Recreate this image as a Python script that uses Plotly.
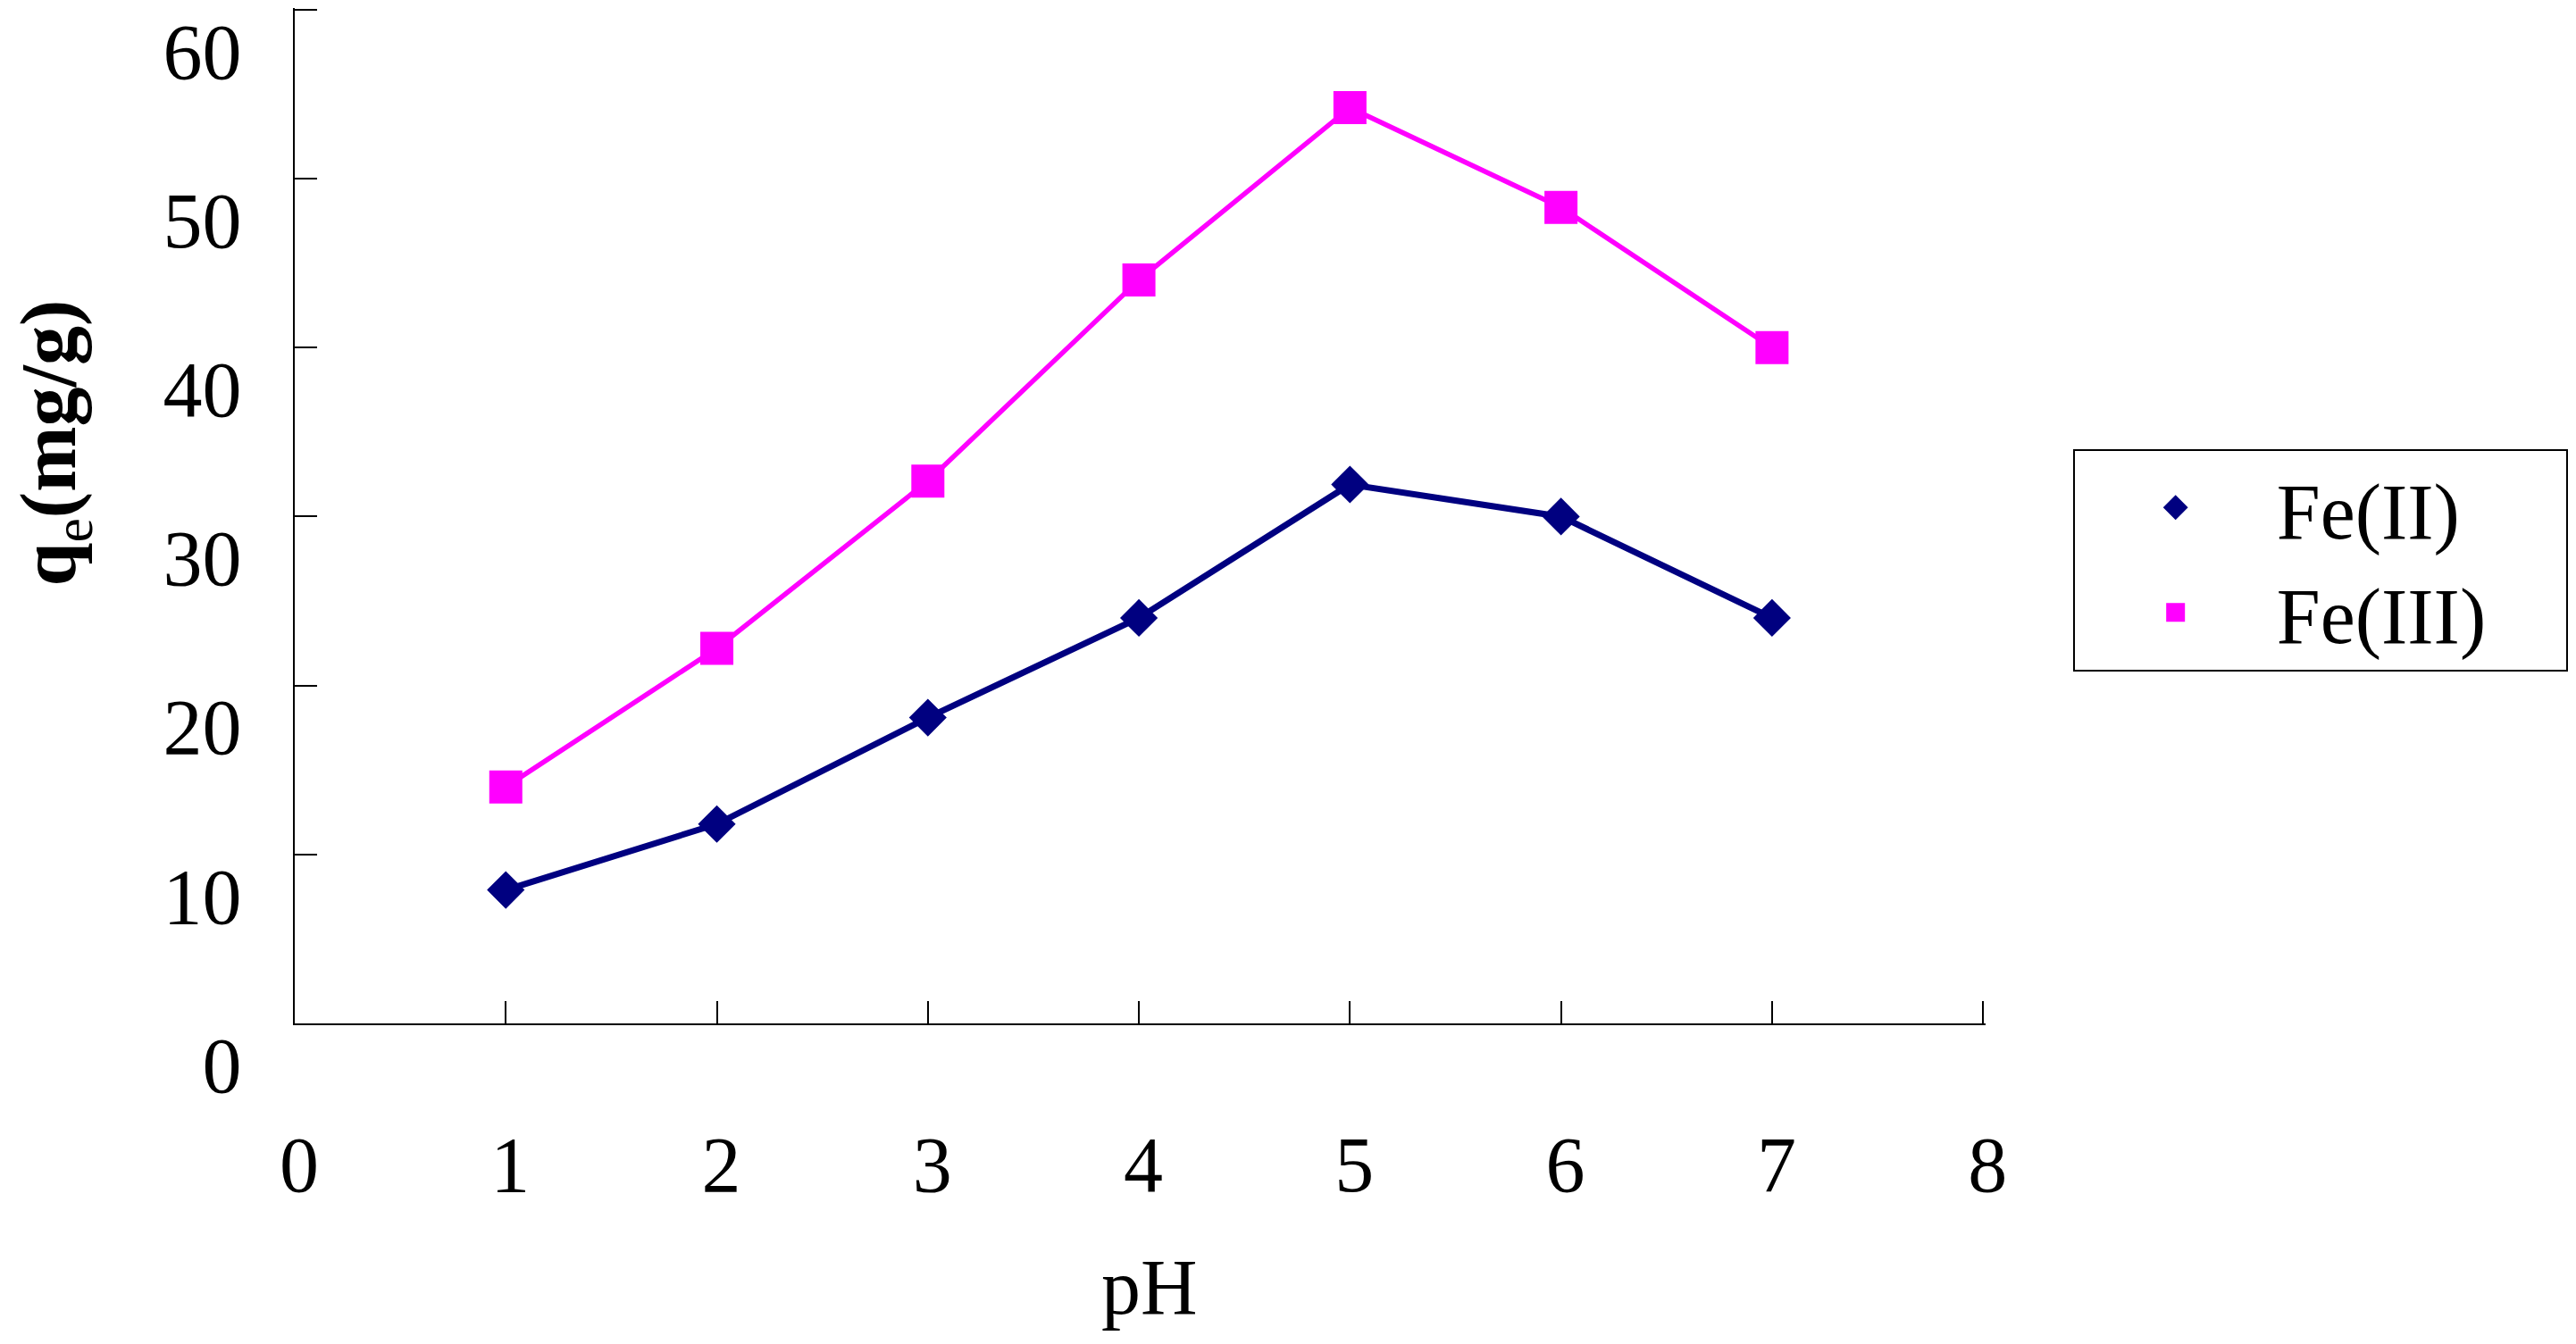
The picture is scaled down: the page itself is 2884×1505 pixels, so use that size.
import plotly.graph_objects as go

# ---- data ----
ph = [1, 2, 3, 4, 5, 6, 7]
fe2_qe = [7.9, 11.8, 18.1, 24.0, 31.9, 30.0, 24.0]
fe3_qe = [14.0, 22.2, 32.1, 44.0, 54.2, 48.3, 40.0]
x_ticks = [0, 1, 2, 3, 4, 5, 6, 7, 8]
y_ticks = [0, 10, 20, 30, 40, 50, 60]
series_names = ["Fe(II)", "Fe(III)"]
x_title = "pH"
y_title = "<b>q</b><sub>e</sub><b>(mg/g)</b>"

# ---- layout constants ----
# the page body has an 8px default margin, so the figure is offset by 8px
OFF = 8
W, H = 2884 - 2 * OFF, 1505 - 2 * OFF
PX_L, PX_R, PX_T, PX_B = 330, 2229, 8, 1146          # plot area in screen px
L, R, T, B = PX_L - OFF, W - (PX_R - OFF), max(PX_T - OFF, 1), H - (PX_B - OFF)
PW, PH = PX_R - PX_L, PX_B - PX_T
FONT = "Liberation Serif"
FS = 88
NAVY = "#000080"
MAGENTA = "#FF00FF"
PAD = "\u00a0\u00a0\u00a0\u2009"


def px_x(sx):
    return (sx - PX_L) / PW


def px_y(sy):
    return (PX_B - sy) / PH


fig = go.Figure()
fig.add_trace(go.Scatter(x=ph, y=fe2_qe, mode="lines", line=dict(color=NAVY, width=7),
                         showlegend=False, hoverinfo="skip"))
fig.add_trace(go.Scatter(x=ph, y=fe3_qe, mode="lines", line=dict(color=MAGENTA, width=5.5),
                         showlegend=False, hoverinfo="skip"))
fig.add_trace(go.Scatter(x=ph, y=fe2_qe, mode="markers", name=series_names[0] + PAD,
                         marker=dict(symbol="diamond", size=27, color=NAVY,
                                     line=dict(color=NAVY, width=5))))
fig.add_trace(go.Scatter(x=ph, y=fe3_qe, mode="markers", name=series_names[1] + PAD,
                         marker=dict(symbol="square", size=32, color=MAGENTA,
                                     line=dict(color=MAGENTA, width=5))))

axis_common = dict(
    showgrid=False, zeroline=False, showline=True, linecolor="black", linewidth=2,
    ticks="inside", ticklen=25, tickwidth=1.5, tickcolor="black",
    tickfont=dict(family=FONT, size=FS, color="black"), fixedrange=True,
)

fig.update_layout(
    width=W, height=H,
    margin=dict(l=L, r=R, t=T, b=B, pad=0),
    paper_bgcolor="white", plot_bgcolor="white",
    font=dict(family=FONT, size=FS, color="black"),
    xaxis=dict(range=[0, 8.012], tickmode="array", tickvals=x_ticks,
               ticktext=[str(v) for v in x_ticks],
               ticklabelstandoff=80, ticklabelshift=5, **axis_common),
    yaxis=dict(range=[0, 60.1], tickmode="array", tickvals=y_ticks,
               ticktext=[str(v) for v in y_ticks],
               ticklabelstandoff=40, ticklabelshift=46, **axis_common),
    legend=dict(x=px_x(2327), y=px_y(502),
                xanchor="left", yanchor="top",
                bordercolor="black", borderwidth=2, bgcolor="white",
                font=dict(family=FONT, size=FS, color="black"),
                itemsizing="trace", itemwidth=216, tracegroupgap=0),
    annotations=[
        dict(text=y_title, xref="paper", yref="paper",
             x=px_x(60), y=px_y(495),
             xanchor="center", yanchor="middle", textangle=-90, showarrow=False,
             font=dict(family=FONT, size=FS, color="black")),
        dict(text=x_title, xref="paper", yref="paper",
             x=px_x(1290), y=px_y(1442),
             xanchor="center", yanchor="middle", showarrow=False,
             font=dict(family=FONT, size=FS, color="black")),
    ],
)

fig.write_html("out.html", config={"displayModeBar": False})
